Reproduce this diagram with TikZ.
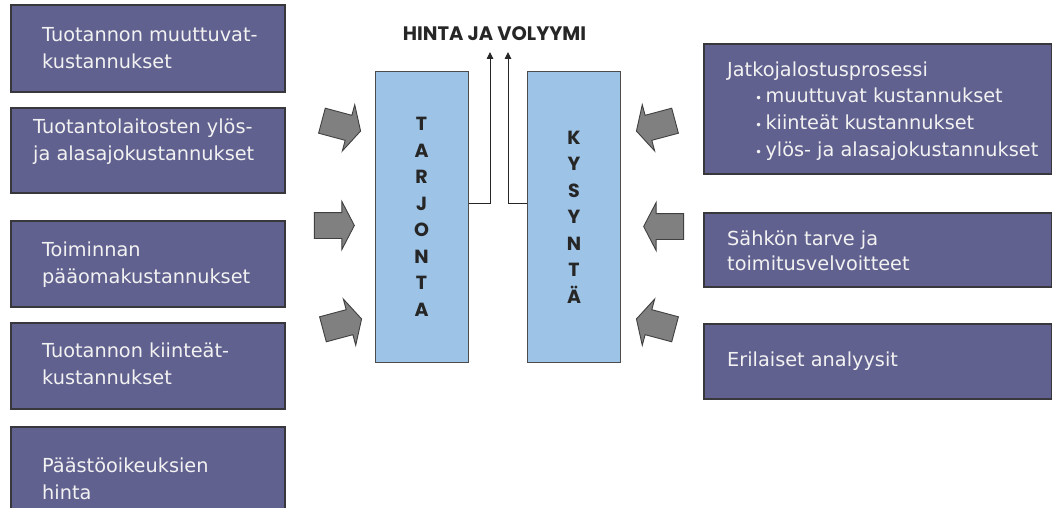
\documentclass[tikz,border=0pt]{standalone}
\usepackage{fontspec}
\setmainfont{DejaVu Sans}
\newfontfamily\popfont{Poppins}
\usetikzlibrary{shapes.arrows,arrows.meta}
\definecolor{boxfill}{RGB}{97,97,144}
\definecolor{boxline}{RGB}{55,55,60}
\definecolor{boxtext}{RGB}{242,242,242}
\definecolor{midfill}{RGB}{157,195,230}
\definecolor{arrfill}{RGB}{128,128,128}
\tikzset{
  pbox/.style={draw=boxline, line width=1.2pt, fill=boxfill, inner sep=0},
  ptext/.style={text=boxtext, font=\fontsize{19.3}{27}\selectfont, align=left, inner sep=0},
  midbox/.style={draw=black!70, line width=1pt, fill=midfill, minimum width=93, minimum height=290, inner sep=0},
  midtext/.style={font=\popfont\bfseries\fontsize{19}{26.5}\selectfont, align=center, text=black!85},
  blockarrow/.style={single arrow, draw=black!75, fill=arrfill, line width=0.9pt,
     inner xsep=0pt, inner ysep=12.5pt, minimum height=40, single arrow head extend=11,
     single arrow tip angle=125},
  flow/.style={draw=black!85, line width=0.9pt, -{Triangle[width=6.5pt,length=7pt]}}
}
\newcommand{\bul}{\hspace*{28pt}{\fontsize{12}{12}\selectfont\textbullet}\,}
\begin{document}
\begin{tikzpicture}[x=1pt,y=-1pt]
\useasboundingbox (0,0) rectangle (1052,508);
% left boxes
\node[pbox, minimum width=274, minimum height=87] (l1) at (148,48.5) {};
\node[pbox, minimum width=274, minimum height=85] (l2) at (148,150.5) {};
\node[pbox, minimum width=274, minimum height=86] (l3) at (148,264) {};
\node[pbox, minimum width=274, minimum height=86] (l4) at (148,366) {};
\node[pbox, minimum width=274, minimum height=90] (l5) at (148,472) {};
\node[ptext, anchor=west] (t1) at (42,48) {Tuotannon muuttuvat-\\kustannukset};
\node[ptext, anchor=west] (t2) at (33,142) {Tuotantolaitosten ylös-\\ja alasajokustannukset};
\node[ptext, anchor=west] (t3) at (42,265) {Toiminnan\\pääomakustannukset};
\node[ptext, anchor=west] (t4) at (42,364) {Tuotannon kiinteät-\\kustannukset};
\node[ptext, anchor=west] (t5) at (42,479) {Päästöoikeuksien\\hinta};
% right boxes
\node[pbox, minimum width=348, minimum height=130] (r1) at (878,109) {};
\node[pbox, minimum width=348, minimum height=74] (r2) at (878,250) {};
\node[pbox, minimum width=348, minimum height=75] (r3) at (878,361.5) {};
\node[ptext, anchor=west, font=\fontsize{19.3}{26.7}\selectfont] (u1) at (727,111) {Jatkojalostusprosessi\\
\bul muuttuvat kustannukset\\
\bul kiinteät kustannukset\\
\bul ylös- ja alasajokustannukset};
\node[ptext, anchor=west, font=\fontsize{19.3}{25.5}\selectfont] (u2) at (727,251) {Sähkön tarve ja\\toimitusvelvoitteet};
\node[ptext, anchor=west] (u3) at (727,361) {Erilaiset analyysit};
% middle
\node[midbox] (tarj) at (421.5,217) {};
\node[midbox] (kys) at (574,217) {};
\node[midtext] (tarjt) at (tarj.center) {T\\A\\R\\J\\O\\N\\T\\A};
\node[midtext] (kyst) at (kys.center) {K\\Y\\S\\Y\\N\\T\\Ä};
\node[font=\popfont\bfseries\fontsize{19.5}{22}\selectfont, text=black!85] (title) at (494.5,34) {HINTA JA VOLYYMI};
\coordinate (o1) at (490,52);
\coordinate (o2) at (508,52);
\draw[flow] (tarj.east |- 0,203) -| (o1);
\draw[flow] (kys.west |- 0,203) -| (o2);
% block arrows
\node[blockarrow, rotate=-15] (a1) at (338,125) {};
\node[blockarrow] (a2) at (331,225.5) {};
\node[blockarrow, rotate=15] (a3) at (339,325) {};
\node[blockarrow, rotate=195] (b1) at (659,125) {};
\node[blockarrow, rotate=180] (b2) at (667,226.5) {};
\node[blockarrow, rotate=165] (b3) at (659,325) {};
\end{tikzpicture}
\end{document}
